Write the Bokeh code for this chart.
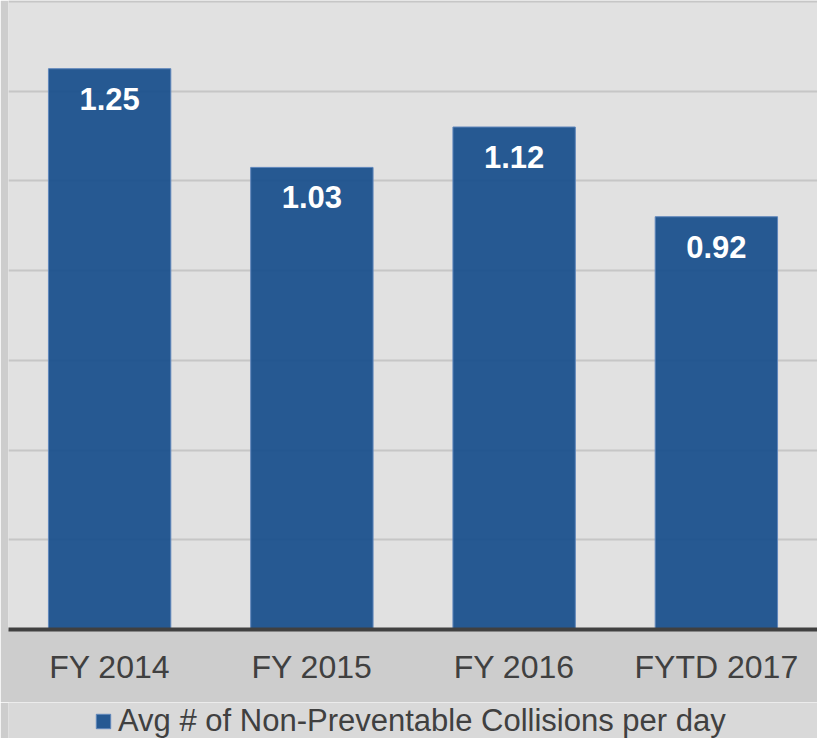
from bokeh.plotting import figure
from bokeh.layouts import column
from bokeh.models import (ColumnDataSource, FactorRange, Range1d, LabelSet,
                          FixedTicker, Legend, LegendItem)
from bokeh.core.properties import value
from bokeh.embed import file_html
from bokeh.resources import INLINE

# ---- data ----
categories = ["FY 2014", "FY 2015", "FY 2016", "FYTD 2017"]
values = [1.25, 1.03, 1.12, 0.92]
value_labels = ["1.25", "1.03", "1.12", "0.92"]
series_name = "Avg # of Non-Preventable Collisions per day"
y_ticks = [0.0, 0.2, 0.4, 0.6, 0.8, 1.0, 1.2, 1.4]

src = ColumnDataSource(dict(cat=categories, val=values, lab=value_labels))

FONT = "Liberation Sans"
TEXT = "#404040"
BAR = "#184f8c"
BAR_EDGE = "#5f86bb"
BORDER = "#cdcdcd"

p = figure(width=817, height=702, output_backend="svg", toolbar_location=None,
           x_range=FactorRange(*categories, range_padding=0),
           y_range=Range1d(0, 1.402),
           min_border_left=8, min_border_right=0, min_border_top=0,
           min_border_bottom=73)

p.background_fill_color = "#e1e1e1"
p.border_fill_color = BORDER
p.outline_line_color = None

r = p.vbar(x="cat", top="val", width=0.605, source=src,
           fill_color=BAR, fill_alpha=0.93,
           line_color=BAR_EDGE, line_width=1)

labels = LabelSet(x="cat", y="val", text="lab", source=src,
                  text_align="center", text_baseline="alphabetic",
                  y_offset=-41, text_color="white",
                  text_font=value(FONT), text_font_style="bold",
                  text_font_size="31px")
p.add_layout(labels)

p.yaxis.visible = False
p.ygrid.ticker = FixedTicker(ticks=y_ticks)
p.ygrid.grid_line_color = "#c6c6c6"
p.ygrid.grid_line_width = 2
p.xgrid.grid_line_color = None

xa = p.xaxis[0]
xa.axis_line_color = "#404040"
xa.axis_line_width = 4
xa.major_tick_line_color = None
xa.minor_tick_line_color = None
xa.major_tick_out = 0
xa.major_label_standoff = 19
xa.major_label_text_font = FONT
xa.major_label_text_font_size = "32px"
xa.major_label_text_color = TEXT

# legend strip below the chart (same data, drawn outside its visible range)
lf = figure(width=817, height=36, output_backend="svg", toolbar_location=None,
            x_range=FactorRange(*categories, range_padding=0),
            y_range=Range1d(10, 11),
            x_axis_type=None, y_axis_type=None,
            min_border_left=8, min_border_right=0, min_border_top=0,
            min_border_bottom=0)
lf.background_fill_color = "#d9d9d9"
lf.border_fill_color = BORDER
lf.outline_line_color = None
lf.xgrid.visible = False
lf.ygrid.visible = False
lr = lf.vbar(x="cat", top="val", width=0.605, source=src,
             fill_color=BAR, fill_alpha=0.93,
             line_color=BAR_EDGE, line_width=1)

legend = Legend(items=[LegendItem(label=series_name, renderers=[lr])],
                location=(86, -1), orientation="horizontal",
                background_fill_alpha=0, border_line_color=None,
                margin=0, padding=0,
                glyph_width=18, glyph_height=18, label_standoff=6,
                label_text_font=FONT, label_text_font_size="31px",
                label_text_color=TEXT)
lf.add_layout(legend, "center")

layout = column(p, lf, spacing=0)
open("out.html", "w").write(file_html(layout, INLINE))
